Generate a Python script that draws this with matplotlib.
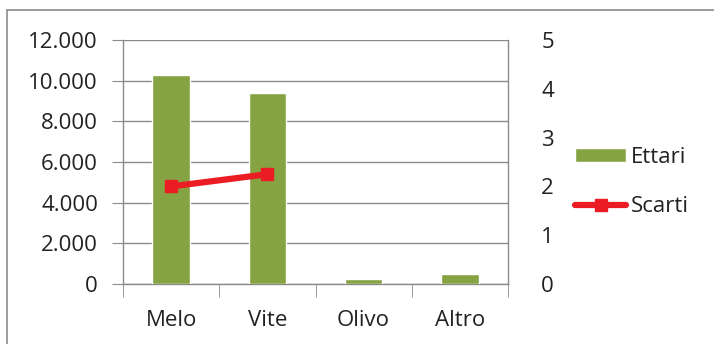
import matplotlib
matplotlib.use("Agg")
import matplotlib.pyplot as plt
import numpy as np
from matplotlib.patches import Rectangle
from matplotlib.lines import Line2D

categories = ["Melo", "Vite", "Olivo", "Altro"]
ettari = [10300, 9400, 230, 480]
scarti = [2.0, 2.25, np.nan, np.nan]
left_ticks = [0, 2000, 4000, 6000, 8000, 10000, 12000]
left_labels = ["0", "2.000", "4.000", "6.000", "8.000", "10.000", "12.000"]
right_ticks = [0, 1, 2, 3, 4, 5]

plt.rcParams["font.family"] = ["Open Sans", "DejaVu Sans"]
FS = 16
W, H = 714, 344
fig = plt.figure(figsize=(W / 100, H / 100), dpi=100)

# outer chart frame
fig.add_artist(Rectangle((7 / W, -0.1), 1.0, 1 - 10 / H + 0.1, transform=fig.transFigure,
                         fill=False, edgecolor="#8c8c8c", linewidth=1.2))

ax = fig.add_axes([123 / W, 1 - 284 / H, (508 - 123) / W, (284 - 40) / H])
x = np.arange(len(categories))
green = "#86a343"
red = "#ec1c24"
grid_c = "#8a8a8a"
txt_c = "#222222"

ax.bar(x, ettari, width=0.39, color=green, edgecolor="white", linewidth=1.0, zorder=3)
ax.set_xlim(-0.5, len(categories) - 0.5)
ax.set_ylim(0, 12000)
ax.set_yticks(left_ticks)
ax.set_yticklabels(left_labels, fontsize=FS, color=txt_c)
ax.set_xticks(x)
ax.set_xticklabels(categories, fontsize=FS, color=txt_c)
ax.yaxis.grid(True, color=grid_c, linewidth=1.0, zorder=0)
ax.set_axisbelow(True)
ax.spines["top"].set_visible(False)
for s in ["left", "right", "bottom"]:
    ax.spines[s].set_color(grid_c)
    ax.spines[s].set_linewidth(1.0)
ax.tick_params(axis="y", length=8, color=grid_c, pad=10)
ax.tick_params(axis="x", length=0, pad=19)
# category boundary ticks
ax.set_xticks(np.arange(-0.5, len(categories)), minor=True)
ax.tick_params(axis="x", which="minor", length=9, color=grid_c)

ax2 = ax.twinx()
ax2.set_ylim(0, 5)
ax2.set_yticks(right_ticks)
ax2.set_yticklabels([str(t) for t in right_ticks], fontsize=FS, color=txt_c)
ax2.tick_params(axis="y", length=0, pad=24)
for s in ax2.spines.values():
    s.set_visible(False)
ax2.plot(x, scarti, color=red, linewidth=4.5, marker="s", markersize=9,
         solid_capstyle="round", zorder=5)

handles = [Rectangle((0, 0), 1, 1, facecolor=green, edgecolor="white"),
           Line2D([0], [0], color=red, linewidth=4.5, marker="s", markersize=8,
                  solid_capstyle="round")]
fig.legend(handles, ["Ettari", "Scarti"], loc="center left",
           bbox_to_anchor=(575 / W, 1 - 182 / H), frameon=False, fontsize=FS,
           handlelength=2.3, handleheight=0.6, handletextpad=0.2, labelspacing=1.3,
           labelcolor=txt_c, borderpad=0, borderaxespad=0)

fig.savefig("out.png", dpi=100, facecolor="white")
